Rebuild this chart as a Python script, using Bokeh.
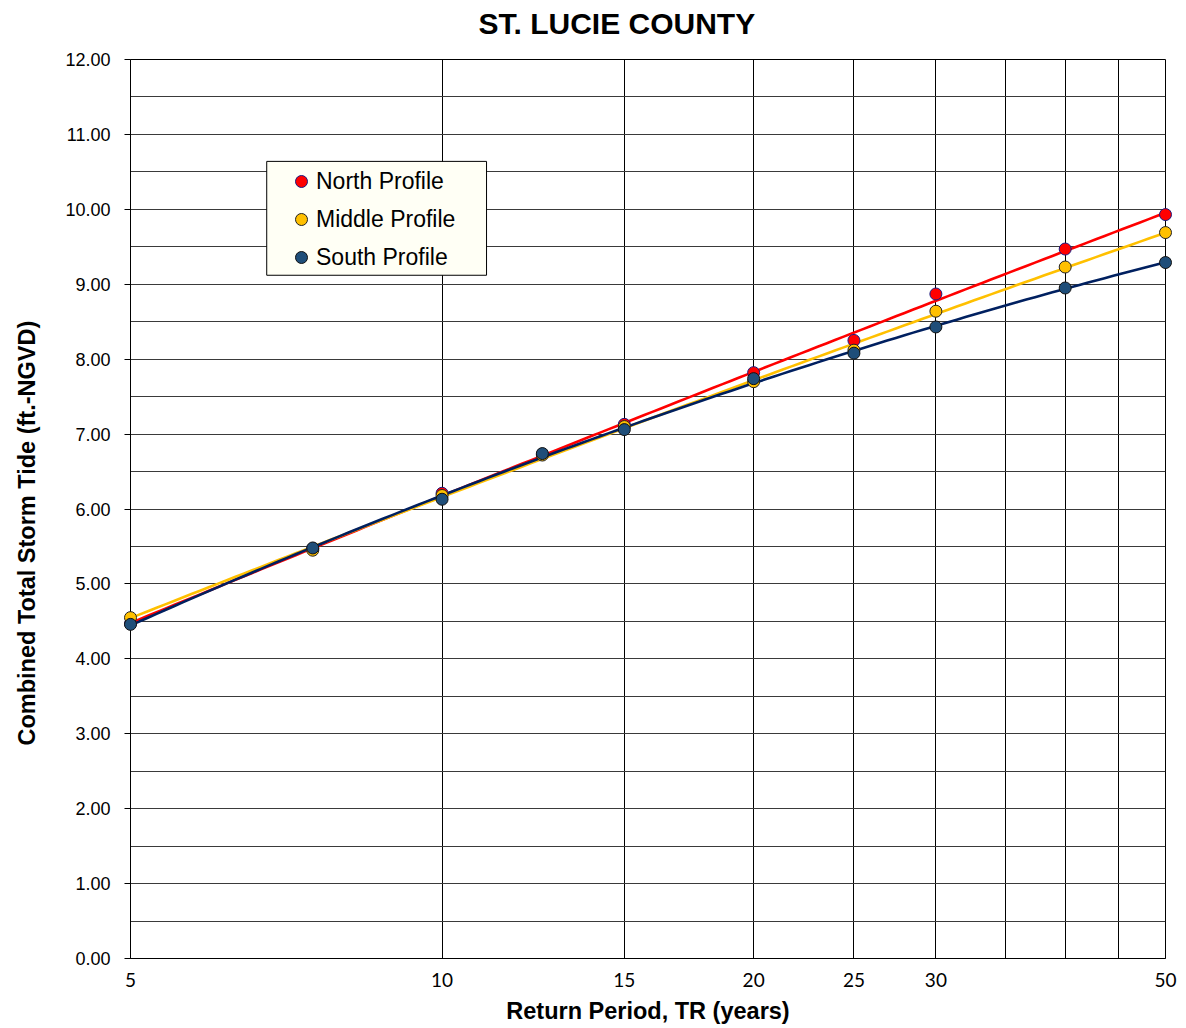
import numpy as np
from bokeh.plotting import figure
from bokeh.models import (FixedTicker, NumeralTickFormatter, Legend, LegendItem,
                          Range1d, BoxAnnotation, Title)
from bokeh.embed import file_html
from bokeh.resources import INLINE

# ---- data ----
return_period = [5, 7.5, 10, 12.5, 15, 20, 25, 30, 40, 50]
north = [4.47, 5.47, 6.21, 6.73, 7.13, 7.82, 8.25, 8.87, 9.47, 9.93]
middle = [4.55, 5.45, 6.18, 6.72, 7.10, 7.70, 8.12, 8.64, 9.23, 9.69]
south = [4.46, 5.48, 6.13, 6.74, 7.06, 7.74, 8.08, 8.43, 8.95, 9.29]
series_names = ["North Profile", "Middle Profile", "South Profile"]

x_tick_values = [5, 10, 15, 20, 25, 30, 50]
x_grid_values = [5, 10, 15, 20, 25, 30, 35, 40, 45, 50]
y_tick_values = [0, 1, 2, 3, 4, 5, 6, 7, 8, 9, 10, 11, 12]
y_grid_values = [0, 0.5, 1, 1.5, 2, 2.5, 3, 3.5, 4, 4.5, 5, 5.5, 6, 6.5,
                 7, 7.5, 8, 8.5, 9, 9.5, 10, 10.5, 11, 11.5, 12]

title_text = "ST. LUCIE COUNTY"
x_label = "Return Period, TR (years)"
y_label = "Combined Total Storm Tide (ft.-NGVD)"

# ---- styles ----
line_colors = ["#FF0000", "#FFC000", "#002060"]
fill_colors = ["#FF0000", "#FFC000", "#1F4E79"]
edge_colors = ["#1A1A80", "#222222", "#111111"]

p = figure(width=1180, height=1028, x_axis_type="log",
           x_range=Range1d(5, 50), y_range=Range1d(0, 12),
           output_backend="svg", toolbar_location=None,
           min_border_left=130, min_border_right=15,
           min_border_top=59, min_border_bottom=70)

p.background_fill_color = "white"
p.outline_line_color = "black"
p.outline_line_width = 1

# grids
p.xgrid.ticker = FixedTicker(ticks=x_grid_values)
p.xgrid.grid_line_color = "black"
p.xgrid.grid_line_width = 1
p.ygrid.ticker = FixedTicker(ticks=y_grid_values)
p.ygrid.grid_line_color = "#3a3a3a"
p.ygrid.grid_line_width = 1

# axes
xa = p.xaxis[0]
xa.ticker = FixedTicker(ticks=x_tick_values)
xa.formatter = NumeralTickFormatter(format="0")
xa.major_tick_line_color = None
xa.minor_tick_line_color = None
xa.major_tick_out = 0
xa.major_label_standoff = 14
xa.major_label_text_font = "Lato"
xa.major_label_text_font_size = "19px"
xa.major_label_text_color = "black"
xa.axis_line_color = "black"
xa.axis_label = x_label
xa.axis_label_text_font = "Liberation Sans"
xa.axis_label_text_font_size = "23.5px"
xa.axis_label_text_font_style = "bold"
xa.axis_label_text_color = "black"
xa.axis_label_standoff = 8

ya = p.yaxis[0]
ya.ticker = FixedTicker(ticks=y_tick_values)
ya.formatter = NumeralTickFormatter(format="0.00")
ya.minor_tick_line_color = None
ya.major_tick_in = 0
ya.major_tick_out = 6
ya.major_tick_line_color = "black"
ya.major_label_standoff = 14
ya.major_label_text_font = "Liberation Sans"
ya.major_label_text_font_size = "18px"
ya.major_label_text_color = "black"
ya.axis_line_color = "black"


def gap(standoff):
    # blank side title that only reserves room between the frame and a title
    return Title(text=" ", standoff=standoff, text_font="Liberation Sans",
                 text_font_size="12px", text_color="white")


# chart title, above the frame
p.add_layout(gap(4), "above")
p.add_layout(Title(text=title_text, align="left", offset=348,
                   vertical_align="bottom", standoff=0,
                   text_font="Liberation Sans", text_font_size="30px",
                   text_font_style="bold", text_color="black"), "above")

# vertical axis title, offset along the axis like the original
p.add_layout(gap(5), "left")
p.add_layout(Title(text=y_label, align="left", offset=213, vertical_align="top",
                   standoff=0, text_font="Liberation Sans",
                   text_font_size="23.5px", text_font_style="bold",
                   text_color="black"), "left")

# legend frame (drawn under the legend entries)
legend_box = BoxAnnotation(left=6.77, right=11.04, top=10.64, bottom=9.12,
                           fill_color="#FFFFF5", fill_alpha=1,
                           line_color="black", line_width=1, line_alpha=1)
p.add_layout(legend_box)

# trendlines (2nd-order polynomial in log of return period)
all_series = [north, middle, south]
logx = np.log(np.array(return_period, dtype=float))
x_curve = np.exp(np.linspace(np.log(min(return_period)),
                             np.log(max(return_period)), 120))
for ys, lc in zip(all_series, line_colors):
    coef = np.polyfit(logx, np.array(ys), 2)
    y_curve = np.polyval(coef, np.log(x_curve))
    p.line(x_curve, y_curve, line_color=lc, line_width=2.6)

# markers
marker_renderers = []
for ys, fc, ec in zip(all_series, fill_colors, edge_colors):
    r = p.scatter(return_period, ys, size=12, fill_color=fc,
                  line_color=ec, line_width=1, level="overlay")
    marker_renderers.append(r)

legend = Legend(items=[LegendItem(label=n, renderers=[r])
                       for n, r in zip(series_names, marker_renderers)],
                location=(151, 681), margin=0, padding=5, spacing=8,
                glyph_width=30, glyph_height=30, label_height=30,
                label_standoff=0,
                label_text_font="Liberation Sans", label_text_font_size="23px",
                label_text_color="black",
                background_fill_alpha=0, border_line_alpha=0)
p.add_layout(legend, "center")

open("out.html", "w").write(file_html(p, INLINE))
